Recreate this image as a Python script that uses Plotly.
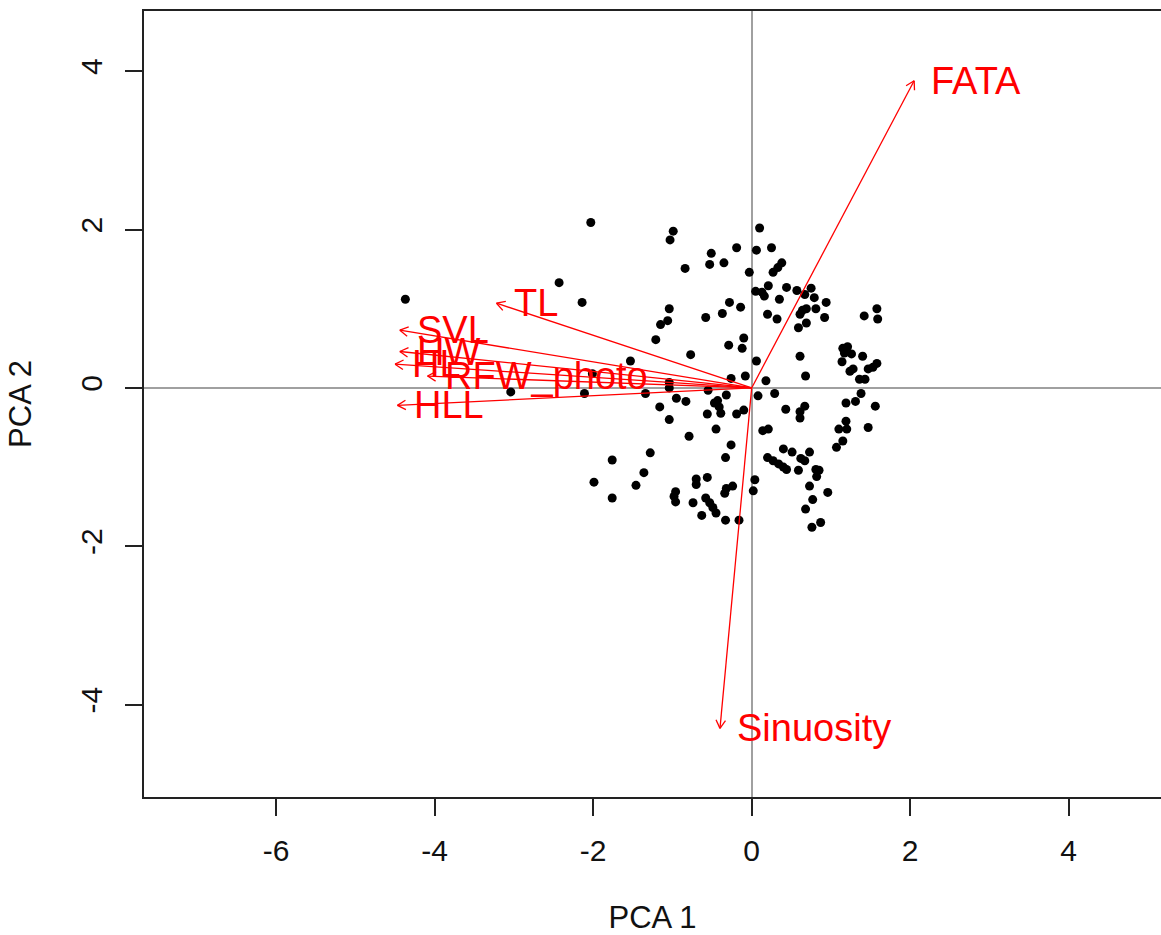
import math
import plotly.graph_objects as go

# PCA scores (PC1, PC2) for each individual
pc1 = [-2.03, -0.99, -1.03, 0.10, -0.19, 0.06, 0.25, -0.51, -0.53, -0.35,
       -0.84, -0.03, 0.38, 0.33, 0.27, 0.21, 0.05, 0.13, 0.16, 0.44,
       0.57, 0.75, 0.67, 0.79, 0.35, -0.28, -0.14, 0.94, -2.14, -1.04,
       0.81, 0.64, 0.69, 0.61, -0.37, -0.58, 0.20, 0.32, 0.92, 1.42,
       1.58, 1.59, -1.06, -1.15, 0.69, 0.59, -1.21, -0.10, -0.12, -0.29,
       -0.77, 0.61, 1.21, 1.17, 1.14, 1.26, 1.40, 0.06, -1.53, 1.28,
       1.24, 1.47, 1.53, 1.58, 0.68, -0.08, 1.36, 1.43, 0.18, -0.26,
       -2.01, -1.04, -1.04, -2.11, -1.34, -0.55, -0.32, 0.08, 0.29, 1.38,
       1.31, 1.19, 1.56, -0.95, -0.83, -0.43, -0.47, -0.41, -0.39, -1.16,
       -0.56, 0.43, 0.67, 0.61, 0.61, -0.10, -0.19, -1.04, 1.19, 1.10,
       1.20, 1.47, -0.45, 0.14, 0.21, -0.79, 1.15, 1.07, -0.26, -1.28,
       -0.33, -1.76, 0.20, 0.27, 0.34, 0.40, 0.44, 0.40, 0.51, 0.62,
       0.73, 0.67, 0.59, 0.81, 0.85, 0.82, -1.36, -1.46, -1.99, -0.70,
       -0.70, -0.56, 0.04, 0.02, 0.73, 0.96, -0.24, -0.32, -0.34, -0.96,
       -0.98, -0.96, -1.76, -0.74, -0.58, -0.53, -0.49, -0.45, 0.77, 0.68,
       -0.63, -0.33, -0.16, 0.87, 0.76, -4.37, -2.43, -3.04, 1.15]
pc2 = [2.09, 1.98, 1.87, 2.02, 1.77, 1.74, 1.77, 1.70, 1.56, 1.58,
       1.51, 1.46, 1.58, 1.52, 1.46, 1.29, 1.22, 1.21, 1.16, 1.27,
       1.23, 1.26, 1.18, 1.14, 1.12, 1.08, 1.02, 1.08, 1.08, 1.00,
       1.00, 0.98, 1.00, 0.93, 0.94, 0.89, 0.93, 0.87, 0.89, 0.91,
       1.00, 0.87, 0.85, 0.80, 0.82, 0.76, 0.61, 0.63, 0.50, 0.54,
       0.42, 0.40, 0.52, 0.44, 0.33, 0.43, 0.40, 0.34, 0.34, 0.24,
       0.21, 0.24, 0.26, 0.31, 0.15, 0.15, 0.11, 0.11, 0.09, 0.12,
       0.18, 0.07, 0.00, -0.07, -0.07, -0.03, -0.09, -0.10, -0.07, -0.07,
       -0.17, -0.19, -0.23, -0.13, -0.17, -0.16, -0.19, -0.24, -0.32, -0.24,
       -0.33, -0.27, -0.23, -0.30, -0.38, -0.28, -0.33, -0.40, -0.42, -0.52,
       -0.52, -0.50, -0.52, -0.54, -0.52, -0.61, -0.67, -0.75, -0.72, -0.82,
       -0.88, -0.91, -0.88, -0.92, -0.96, -1.00, -1.03, -0.77, -0.81, -0.89,
       -0.81, -0.92, -1.04, -1.03, -1.04, -1.12, -1.07, -1.23, -1.19, -1.15,
       -1.22, -1.13, -1.16, -1.30, -1.24, -1.32, -1.24, -1.27, -1.33, -1.31,
       -1.37, -1.44, -1.39, -1.45, -1.39, -1.45, -1.51, -1.58, -1.41, -1.53,
       -1.61, -1.67, -1.67, -1.70, -1.76, 1.12, 1.33, -0.05, 0.50]

# Variable loadings (arrow tips)
var_names = ["FATA", "Sinuosity", "TL", "SVL", "HW", "HL", "RFW_photo", "HLL"]
load_pc1 = [2.05, -0.40, -3.22, -4.44, -4.44, -4.50, -4.09, -4.47]
load_pc2 = [3.88, -4.30, 1.07, 0.73, 0.46, 0.30, 0.15, -0.22]

x_ticks = [-6, -4, -2, 0, 2, 4]
x_tick_text = ["-6", "-4", "-2", "0", "2", "4"]
y_ticks = [-4, -2, 0, 2, 4]
y_tick_text = ["-4", "-2", "0", "2", "4"]

FONT = "Liberation Sans, Arial, sans-serif"
RED = "#ff0000"

# arrow shafts and open arrowheads (head length in data units, 30 degree barbs)
head_len = 0.12
ax_x, ax_y = [], []
for vx, vy in zip(load_pc1, load_pc2):
    ax_x += [0, vx, None]
    ax_y += [0, vy, None]
    ang = math.atan2(vy, vx)
    for s in (1, -1):
        a = ang + math.pi + s * math.radians(30)
        ax_x += [vx + head_len * math.cos(a), vx, None]
        ax_y += [vy + head_len * math.sin(a), vy, None]

fig = go.Figure()
fig.add_trace(go.Scatter(
    x=pc1, y=pc2, mode="markers",
    marker=dict(color="black", size=9, line=dict(width=0)),
    hoverinfo="skip", showlegend=False,
))
fig.add_trace(go.Scatter(
    x=ax_x, y=ax_y, mode="lines",
    line=dict(color=RED, width=1.3),
    hoverinfo="skip", showlegend=False,
))

for name, vx, vy in zip(var_names, load_pc1, load_pc2):
    fig.add_annotation(
        x=vx, y=vy, text=name, showarrow=False,
        xanchor="left", yanchor="middle", xshift=15,
        font=dict(family=FONT, size=38, color=RED),
    )

axis_common = dict(
    showgrid=False,
    showline=True, linecolor="#222", linewidth=1.5,
    ticks="outside", ticklen=17, tickwidth=1.5, tickcolor="#222",
    tickfont=dict(family=FONT, size=30, color="#111"),
    zeroline=True, zerolinecolor="#a0a0a0", zerolinewidth=1.5,
)

fig.update_layout(
    width=1161, height=935,
    margin=dict(l=144, r=0, t=11, b=138),
    paper_bgcolor="white", plot_bgcolor="white",
    xaxis=dict(
        range=[-7.668, 5.165], tickvals=x_ticks, ticktext=x_tick_text,
        mirror=True, ticklabelstandoff=9,
        title=dict(text="PCA 1", font=dict(family=FONT, size=31, color="#111"), standoff=42),
        **axis_common,
    ),
    yaxis=dict(
        range=[-5.167, 4.761], tickvals=y_ticks, ticktext=y_tick_text, tickangle=-90,
        ticklabelstandoff=11,
        title=dict(text="PCA 2", font=dict(family=FONT, size=31, color="#111"), standoff=34),
        **axis_common,
    ),
)

fig.write_html("out.html")
